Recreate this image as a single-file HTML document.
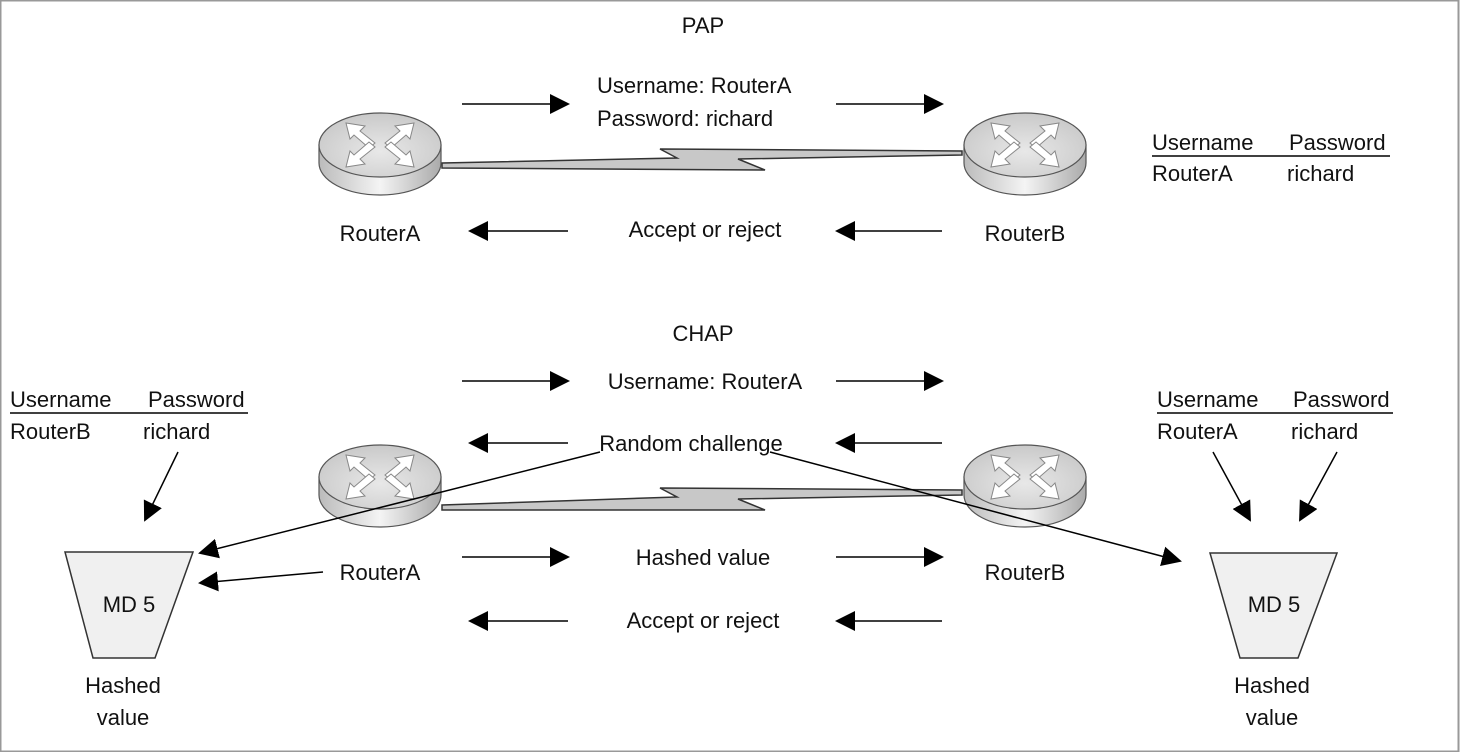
<!DOCTYPE html>
<html><head><meta charset="utf-8"><style>
body{margin:0;background:#fff}
svg{display:block}
text{font-family:"Liberation Sans",sans-serif;font-size:22px;fill:#111}
</style></head><body>
<svg width="1460" height="752" viewBox="0 0 1460 752">
<defs>
<marker id="ah" viewBox="0 0 10 10" refX="9" refY="5" markerWidth="20" markerHeight="20" markerUnits="userSpaceOnUse" orient="auto"><path d="M0,0 L10,5 L0,10 z" fill="#000"/></marker>
<linearGradient id="body" x1="0" x2="1"><stop offset="0" stop-color="#bbb"/><stop offset="0.5" stop-color="#f4f4f4"/><stop offset="1" stop-color="#aaa"/></linearGradient>
<radialGradient id="top" cx="0.5" cy="0.6" r="0.7"><stop offset="0" stop-color="#e8e8e8"/><stop offset="1" stop-color="#c4c4c4"/></radialGradient>
<g id="router">
<path d="M-61,0 L-61,18 A61,32 0 0 0 61,18 L61,0 Z" fill="url(#body)" stroke="#555" stroke-width="1.2"/>
<ellipse cx="0" cy="0" rx="61" ry="32" fill="url(#top)" stroke="#555" stroke-width="1.2"/>
<g fill="#fff" stroke="#888" stroke-width="1">
<path id="ar" d="M5,-2 L20,-14 L15,-19 L34,-22 L30,-6 L26,-10 L11,3 Z"/>
<use href="#ar" transform="scale(-1,1)"/>
<use href="#ar" transform="scale(1,-1)"/>
<use href="#ar" transform="scale(-1,-1)"/>
</g>
</g>
</defs>
<rect x="0.5" y="0.5" width="1458" height="751" fill="none" stroke="#999" stroke-width="2"/>

<!-- PAP -->
<text x="703" y="33" text-anchor="middle">PAP</text>
<polygon points="442,163 677,158 660,149 962,151 962,155 738,159 765,170 442,168" fill="#c8c8c8" stroke="#333" stroke-width="1.5"/>
<use href="#router" x="380" y="145"/>
<use href="#router" x="1025" y="145"/>
<text x="597" y="93">Username: RouterA</text>
<text x="597" y="126">Password: richard</text>
<g stroke="#000" stroke-width="1.5" marker-end="url(#ah)">
<line x1="462" y1="104" x2="568" y2="104"/>
<line x1="836" y1="104" x2="942" y2="104"/>
<line x1="568" y1="231" x2="470" y2="231"/>
<line x1="942" y1="231" x2="837" y2="231"/>
</g>
<text x="380" y="241" text-anchor="middle">RouterA</text>
<text x="1025" y="241" text-anchor="middle">RouterB</text>
<text x="705" y="237" text-anchor="middle">Accept or reject</text>
<text x="1152" y="150">Username</text><text x="1289" y="150">Password</text>
<line x1="1152" y1="156" x2="1390" y2="156" stroke="#000" stroke-width="1.5"/>
<text x="1152" y="181">RouterA</text><text x="1287" y="181">richard</text>

<!-- CHAP -->
<text x="703" y="341" text-anchor="middle">CHAP</text>
<polygon points="442,505 677,497 660,488 962,490 962,495 738,499 765,510 442,510" fill="#c8c8c8" stroke="#333" stroke-width="1.5"/>
<use href="#router" x="380" y="477"/>
<use href="#router" x="1025" y="477"/>
<text x="705" y="389" text-anchor="middle">Username: RouterA</text>
<text x="691" y="451" text-anchor="middle">Random challenge</text>
<text x="703" y="565" text-anchor="middle">Hashed value</text>
<text x="703" y="628" text-anchor="middle">Accept or reject</text>
<text x="380" y="580" text-anchor="middle">RouterA</text>
<text x="1025" y="580" text-anchor="middle">RouterB</text>
<g stroke="#000" stroke-width="1.5" marker-end="url(#ah)">
<line x1="462" y1="381" x2="568" y2="381"/>
<line x1="836" y1="381" x2="942" y2="381"/>
<line x1="568" y1="443" x2="470" y2="443"/>
<line x1="942" y1="443" x2="837" y2="443"/>
<line x1="462" y1="557" x2="568" y2="557"/>
<line x1="836" y1="557" x2="942" y2="557"/>
<line x1="568" y1="621" x2="470" y2="621"/>
<line x1="942" y1="621" x2="837" y2="621"/>
<line x1="600" y1="452" x2="200" y2="553"/>
<line x1="323" y1="572" x2="200" y2="583"/>
<line x1="178" y1="452" x2="145" y2="520"/>
<line x1="770" y1="452" x2="1180" y2="561"/>
<line x1="1213" y1="452" x2="1250" y2="520"/>
<line x1="1337" y1="452" x2="1300" y2="520"/>
</g>
<text x="10" y="407">Username</text><text x="148" y="407">Password</text>
<line x1="10" y1="413" x2="248" y2="413" stroke="#000" stroke-width="1.5"/>
<text x="10" y="439">RouterB</text><text x="143" y="439">richard</text>
<text x="1157" y="407">Username</text><text x="1293" y="407">Password</text>
<line x1="1157" y1="413" x2="1393" y2="413" stroke="#000" stroke-width="1.5"/>
<text x="1157" y="439">RouterA</text><text x="1291" y="439">richard</text>

<polygon points="65,552 193,552 155,658 93,658" fill="#f0f0f0" stroke="#333" stroke-width="1.5"/>
<text x="129" y="612" text-anchor="middle">MD 5</text>
<text x="123" y="693" text-anchor="middle">Hashed</text>
<text x="123" y="725" text-anchor="middle">value</text>
<polygon points="1210,553 1337,553 1298,658 1240,658" fill="#f0f0f0" stroke="#333" stroke-width="1.5"/>
<text x="1274" y="612" text-anchor="middle">MD 5</text>
<text x="1272" y="693" text-anchor="middle">Hashed</text>
<text x="1272" y="725" text-anchor="middle">value</text>
</svg>
</body></html>
